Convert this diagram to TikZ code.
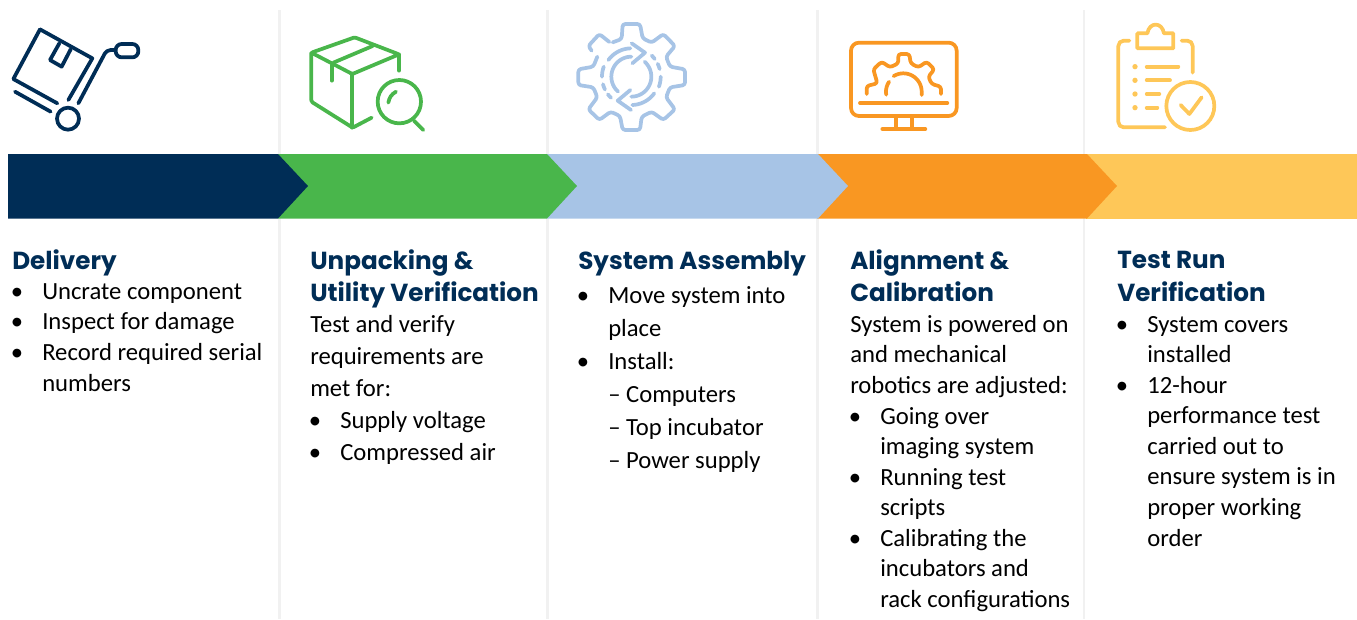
\documentclass[tikz,border=0pt]{standalone}
\usepackage{fontspec}
\setmainfont{Carlito}
\newfontfamily\headfont{Poppins}
\usetikzlibrary{positioning}
\definecolor{stepnavy}{HTML}{002D56}
\definecolor{stepgreen}{HTML}{49B64B}
\definecolor{stepblue}{HTML}{A7C4E6}
\definecolor{steporange}{HTML}{F99722}
\definecolor{stepyellow}{HTML}{FEC758}
\definecolor{sepgray}{HTML}{F1F1F1}
\newcommand{\bull}{\makebox[22.5pt][l]{\hspace{-1pt}\textbullet}}
\newcommand{\ringarc}[5]{plot[domain=#4:#5,samples=24] ({#1+#3*cos(\x)},{#2-#3*sin(\x)})}
\tikzset{
  stephead/.style={
    inner sep=0pt, anchor=north west, align=left, text=stepnavy,
    font=\headfont\bfseries\fontsize{18.5}{24.7}\selectfont,
    execute at begin node={\rule{0pt}{18pt}}
  },
  stepbody/.style={
    inner sep=0pt, anchor=north west, align=left, text=black,
    font=\fontsize{18.5}{#1}\selectfont,
    execute at begin node={\rule{0pt}{16pt}}
  },
  icon/.style={
    shift={(#1)}, x=0.25pt, y=-0.25pt, line width=2.8pt,
    line cap=round, line join=round
  },
}

\begin{document}
\begin{tikzpicture}[x=0.75pt,y=-0.75pt]
\useasboundingbox (0,0) rectangle (1357,619);

% separators
\foreach \xsep in {279.5,547.5,817.5,1084}
  \draw[sepgray,line width=2pt] (\xsep,10) -- (\xsep,619);

% arrow bar
\fill[stepyellow] (1086,154) rectangle (1357,218.5);
\foreach \xa/\xb/\colr in {817/1087/steporange,547/818/stepblue,278/547/stepgreen,8/278/stepnavy}
  \fill[\colr] (\xa,154) -- (\xb,154) -- (\xb+30,186) -- (\xb,218.5) -- (\xa,218.5) -- cycle;

% delivery icon
\begin{scope}[icon={0,10},draw=stepnavy]
\draw (120,58) -- (277,145) -- (205,270);
\draw (120,58) -- (40,207) -- (172,280);
\draw (178,100) -- (150,150) -- (185,170) -- (212,118);
\draw (45,245) -- (152,305);
\draw[rounded corners=3pt] (235,280) -- (320,120) -- (345,120);
\draw[rounded corners=4.5pt] (347,102) rectangle (415,142);
\draw (204,326) circle (33);
\end{scope}

% unpacking icon
\begin{scope}[icon={0,10},draw=stepgreen]
\draw[rounded corners=1pt] (934,128) -- (1064,82) -- (1197,133) -- (1057,192) -- cycle;
\draw[rounded corners=1pt] (934,128) -- (934,275) -- (1058,353) -- (1115,323);
\draw (1057,192) -- (1057,353);
\draw (1197,133) -- (1197,182);
\draw (995,165) -- (995,212);
\draw (1000,158) -- (1118,108);
\draw (1198,275) circle (65);
\draw (1242,332) -- (1270,360);
\draw (1165,278) to[bend left=25] (1188,245);
\end{scope}

% assembly icon
\begin{scope}[icon={540,10},draw=stepblue]
\draw[rounded corners=2pt] (172,140) -- (160,170) -- (115,178) -- (115,225) -- (160,232) -- (172,262)
  -- (145,298) -- (178,330) -- (212,305) -- (240,318) -- (248,360) -- (300,360) -- (305,320)
  -- (335,305) -- (370,330) -- (405,298) -- (378,262) -- (390,232) -- (435,225) -- (435,178)
  -- (390,170) -- (378,140) -- (405,108) -- (370,72) -- (335,98) -- (308,85) -- (300,42)
  -- (248,42) -- (245,87) -- (218,97);
\draw[rounded corners=2pt] (208,96) -- (178,72) -- (145,108) -- (155,122);
\draw \ringarc{274}{200}{85}{92}{144};
\draw \ringarc{274}{200}{85}{272}{324};
\draw \ringarc{274}{200}{60}{90}{228};
\draw \ringarc{274}{200}{60}{270}{408};
\foreach \aa/\ab in {160/180,195/206,217/226,340/360,15/26,37/46}
  \draw \ringarc{274}{200}{88}{\aa}{\ab};
\draw (275,100) -- (315,128) -- (277,160);
\draw (273,300) -- (233,272) -- (271,240);
\end{scope}

% alignment icon
\begin{scope}[icon={540,10},draw=steporange]
\draw[rounded corners=6pt] (933,98) rectangle (1250,318);
\draw (1068,320) -- (1068,355);
\draw (1115,320) -- (1115,355);
\draw (1027,357) -- (1156,357);
\draw (960,279) -- (1222,279);
\draw[rounded corners=2pt] (980,252) -- (980,228) -- (1012,220) -- (1000,178) -- (1025,155) -- (1050,172)
  -- (1075,160) -- (1075,132) -- (1108,132) -- (1112,160) -- (1135,172) -- (1160,155) -- (1183,178)
  -- (1165,200) -- (1175,222) -- (1203,230) -- (1203,252);
\draw \ringarc{1090}{245}{55}{122}{0} -- (1145,255);
\draw \ringarc{1090}{245}{52}{145}{190};
\end{scope}

% test run icon
\begin{scope}[icon={1060,10},draw=stepyellow,fill=stepyellow]
\draw[rounded corners=4pt] (208,92) -- (175,92) -- (175,352) -- (315,352);
\draw[rounded corners=4pt] (365,92) -- (398,92) -- (398,188);
\draw (232,70) -- (262,70) .. controls (268,35) and (306,35) .. (312,70) -- (340,70) -- (340,115) -- (232,115) -- cycle;
\foreach \ydot/\xend in {170/355,211/330,252/298,293/292} {
  \fill (225,\ydot) circle (8);
  \draw (260,\ydot) -- (\xend,\ydot);
}
\draw (391,288) circle (72);
\draw (362,285) -- (388,312) -- (425,262);
\end{scope}

% column texts
\node[stephead] (HEAD1) at (12,245.5) {Delivery};
\node[stepbody=23] (BODY1) at (12,283) {\bull Uncrate component\\ \bull Inspect for damage\\ \bull Record required serial\\ \hspace*{22.5pt}numbers};

\node[stephead] (HEAD2) at (310,249) {Unpacking \&\\ Utility Verification};
\node[stepbody=24] (BODY2) at (310,315) {Test and verify\\ requirements are\\ met for:\\ \bull Supply voltage\\ \bull Compressed air};

\node[stephead] (HEAD3) at (578,245.5) {System Assembly};
\node[stepbody=24.75] (BODY3) at (578,286) {\bull Move system into\\ \hspace*{22.5pt}place\\ \bull Install:\\ \hspace*{22.5pt}-- Computers\\ \hspace*{22.5pt}-- Top incubator\\ \hspace*{22.5pt}-- Power supply};

\node[stephead] (HEAD4) at (850,249) {Alignment \&\\ Calibration};
\node[stepbody=22.9] (BODY4) at (850,315) {System is powered on\\ and mechanical\\ robotics are adjusted:\\ \bull Going over\\ \hspace*{22.5pt}imaging system\\ \bull Running test\\ \hspace*{22.5pt}scripts\\ \bull Calibrating the\\ \hspace*{22.5pt}incubators and\\ \hspace*{22.5pt}rack configurations};

\node[stephead] (HEAD5) at (1117,251) {Test Run\\ Verification};
\node[stepbody=22.9] (BODY5) at (1117,316) {\bull System covers\\ \hspace*{22.5pt}installed\\ \bull 12-hour\\ \hspace*{22.5pt}performance test\\ \hspace*{22.5pt}carried out to\\ \hspace*{22.5pt}ensure system is in\\ \hspace*{22.5pt}proper working\\ \hspace*{22.5pt}order};
\end{tikzpicture}
\end{document}
